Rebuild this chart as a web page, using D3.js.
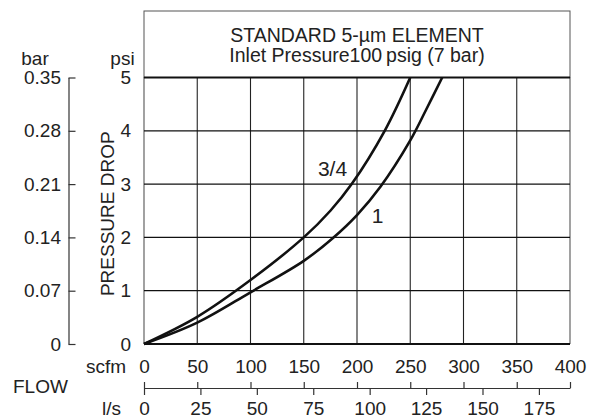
<!DOCTYPE html>
<html>
<head>
<meta charset="utf-8">
<script src="https://cdn.jsdelivr.net/npm/d3@7"></script>
<style>
  body { margin: 0; background: #fff; }
  svg text { font-family: "Liberation Sans", Arial, sans-serif; fill: #222; }
</style>
</head>
<body>
<svg class="chart" width="597" height="420"></svg>
<script>
// values
const scfmTicks = [0, 50, 100, 150, 200, 250, 300, 350, 400];
const lpsTicks = [0, 25, 50, 75, 100, 125, 150, 175];
const psiTicks = [0, 1, 2, 3, 4, 5];
const barTicks = [0, 0.07, 0.14, 0.21, 0.28, 0.35];

// 3/4 in. element
const flow34 = [0, 50, 100, 150, 175, 195, 226, 250];
const drop34 = [0, 0.51, 1.2, 2, 2.5, 3, 4, 5];
// 1 in. element
const flow1 = [0, 50, 100, 150, 178, 200, 222, 250, 265, 280];
const drop1 = [0, 0.4, 0.97, 1.56, 2, 2.42, 2.95, 3.82, 4.4, 5];

const titleLines = ["STANDARD 5-\u00b5m ELEMENT", "Inlet Pressure100\u2009psig (7 bar)"];

const plotL = 144, plotR = 570, plotT = 77.5, plotB = 344, boxTop = 11;
const fs = 19;
const scfmPerLps = 2.1189;

const x = d3.scaleLinear().domain([0, 400]).range([plotL, plotR]);
const xl = d3.scaleLinear().domain([0, 400 / scfmPerLps]).range([plotL, plotR]);
const y = d3.scaleLinear().domain([0, 5]).range([plotB, plotT]);
const yb = d3.scaleLinear().domain([0, 0.35]).range([plotB, plotT]);

const svg = d3.select('svg.chart');

// title box
svg.append('rect')
   .attr('x', plotL).attr('y', boxTop)
   .attr('width', plotR - plotL).attr('height', plotT - boxTop)
   .style('fill', 'none').style('stroke', '#555').style('stroke-width', 1);

svg.selectAll('text.title')
   .data(titleLines)
   .enter()
   .append('text')
   .classed('title', true)
   .attr('x', (plotL + plotR) / 2)
   .attr('y', (d, i) => 42 + i * 20)
   .attr('text-anchor', 'middle')
   .style('font-size', '19.5px')
   .text(d => d);

// grid
const grid = svg.append('g');
grid.selectAll('line.v')
    .data(scfmTicks)
    .enter()
    .append('line')
    .attr('x1', d => x(d)).attr('x2', d => x(d))
    .attr('y1', plotT).attr('y2', plotB)
    .style('stroke', d => (d === 0 || d === 400) ? '#555' : '#222')
    .style('stroke-width', 1.1);

grid.selectAll('line.h')
    .data(psiTicks)
    .enter()
    .append('line')
    .attr('x1', plotL).attr('x2', plotR)
    .attr('y1', d => y(d)).attr('y2', d => y(d))
    .style('stroke', '#111')
    .style('stroke-width', d => (d === 5 || d === 0) ? 2 : 1.3);

// curves
const line = d3.line()
               .x(d => x(d[0]))
               .y(d => y(d[1]))
               .curve(d3.curveCatmullRom.alpha(0.5));

[[flow34, drop34], [flow1, drop1]].forEach(s => {
  svg.append('path')
     .datum(s[0].map((f, i) => [f, s[1][i]]))
     .attr('d', line)
     .style('fill', 'none')
     .style('stroke', '#111')
     .style('stroke-width', 2.6);
});

svg.append('text').attr('x', 332.5).attr('y', 176)
   .attr('text-anchor', 'middle').style('font-size', '21px').text('3/4');
svg.append('text').attr('x', 377.5).attr('y', 223)
   .attr('text-anchor', 'middle').style('font-size', '21px').text('1');

// psi axis
const psiAxis = svg.append('g')
   .attr('transform', `translate(${plotL},0)`)
   .call(d3.axisLeft(y).tickValues(psiTicks).tickSize(0).tickPadding(13)
           .tickFormat(d3.format('d')));
psiAxis.select('.domain').remove();

// bar axis
svg.append('g')
   .attr('transform', 'translate(68.5,0)')
   .call(d3.axisLeft(yb).tickValues(barTicks)
           .tickSizeInner(-7).tickSizeOuter(0).tickPadding(7.5)
           .tickFormat(d => d === 0 ? '0' : d.toFixed(2)));

// scfm labels
const scfmAxis = svg.append('g')
   .attr('transform', `translate(0,${plotB})`)
   .call(d3.axisBottom(x).tickValues(scfmTicks).tickSize(0).tickPadding(15.5)
           .tickFormat(d3.format('d')));
scfmAxis.select('.domain').remove();

// flow scale line: scfm ticks up, l/s ticks down
const flowY = 388;
svg.append('g')
   .attr('transform', `translate(0,${flowY})`)
   .call(d3.axisTop(x).tickValues(scfmTicks).tickSizeInner(6).tickSizeOuter(0).tickFormat(''));
const lpsAxis = svg.append('g')
   .attr('transform', `translate(0,${flowY})`)
   .call(d3.axisBottom(xl).tickValues(lpsTicks).tickSizeInner(7).tickSizeOuter(0).tickPadding(7)
           .tickFormat(d3.format('d')));
lpsAxis.select('.domain').remove();

svg.selectAll('.tick text').style('font-size', fs + 'px');
svg.selectAll('.tick line, .domain').style('stroke', '#333').style('stroke-width', 1.2);

// axis titles
const labels = [
  { t: 'bar', x: 35, y: 65, a: 'middle' },
  { t: 'psi', x: 122.5, y: 65, a: 'middle' },
  { t: 'scfm', x: 126, y: 373, a: 'end' },
  { t: 'FLOW', x: 13, y: 393, a: 'start' },
  { t: 'l/s', x: 121, y: 415, a: 'end' }
];
svg.selectAll('text.lab')
   .data(labels)
   .enter()
   .append('text')
   .classed('lab', true)
   .attr('x', d => d.x).attr('y', d => d.y)
   .attr('text-anchor', d => d.a)
   .style('font-size', fs + 'px')
   .text(d => d.t);

svg.append('text')
   .attr('transform', `translate(114,${(plotT + plotB) / 2 + 3}) rotate(-90)`)
   .attr('text-anchor', 'middle')
   .style('font-size', fs + 'px')
   .text('PRESSURE DROP');
</script>
</body>
</html>
